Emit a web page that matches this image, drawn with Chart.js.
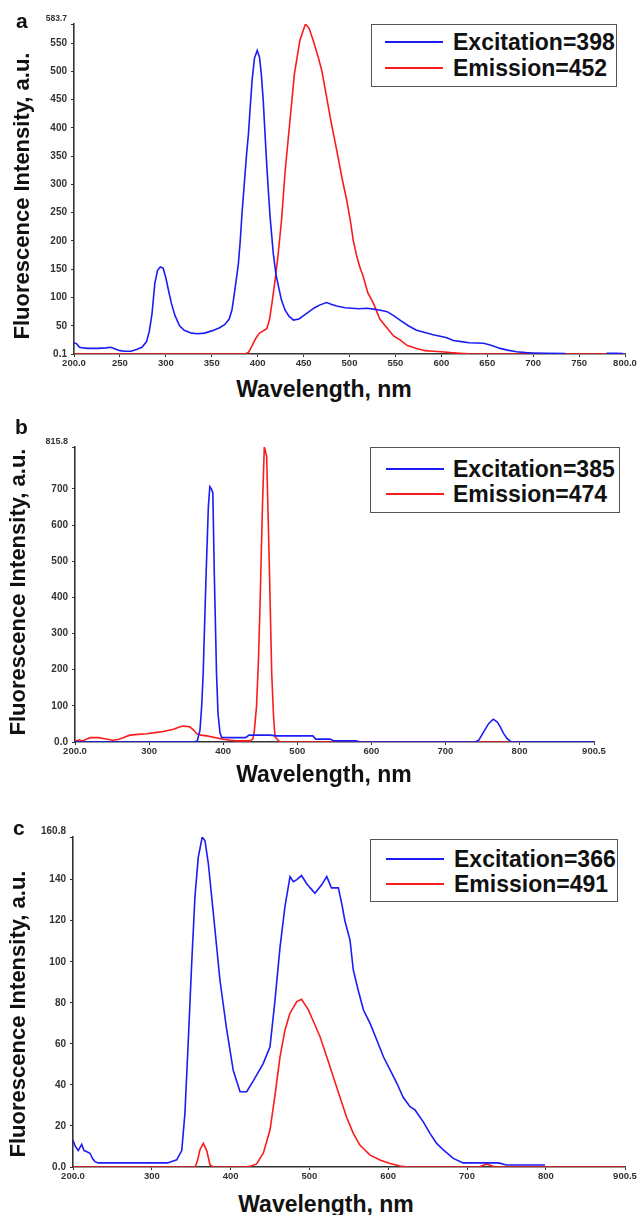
<!DOCTYPE html>
<html>
<head>
<meta charset="utf-8">
<script src="https://cdn.jsdelivr.net/npm/chart.js@4.4.1/dist/chart.umd.min.js"></script>
<style>
  body { margin: 0; background: #fff; width: 641px; height: 1215px; position: relative; overflow: hidden;
         font-family: "Liberation Sans", Arial, sans-serif; }
  canvas { position: absolute; left: 0; display: block; }
  .t { position: absolute; font-weight: bold; color: #111; white-space: nowrap; line-height: 1; }
  .ytitle { font-size: 22px; transform: translate(-50%, -50%) rotate(-90deg); }
  .xtitle { font-size: 23px; transform: translateX(-50%); }
  .letter { font-size: 21px; }
  .legend { position: absolute; border: 1.5px solid #555; background: #fff; box-sizing: border-box; }
  .legend .row { position: absolute; left: 0; right: 0; height: 26px; }
  .legend .swatch { position: absolute; top: 12px; width: 58px; height: 2px; }
  .legend .lbl { position: absolute; top: 0; font-size: 23px; font-weight: bold; line-height: 26px; color: #111; }
</style>
</head>
<body>
<canvas id="chart-a" width="641" height="375" style="top:0px"></canvas>
<canvas id="chart-b" width="641" height="352" style="top:410px"></canvas>
<canvas id="chart-c" width="641" height="390" style="top:800px"></canvas>

<div class="t letter" style="left:16px;top:10px">a</div>
<div class="t letter" style="left:15px;top:416px">b</div>
<div class="t letter" style="left:13px;top:817px">c</div>

<div class="t ytitle" style="left:21.5px;top:196px">Fluorescence Intensity, a.u.</div>
<div class="t ytitle" style="left:18px;top:592px">Fluorescence Intensity, a.u.</div>
<div class="t ytitle" style="left:17.5px;top:1014px">Fluorescence Intensity, a.u.</div>

<div class="t xtitle" style="left:324px;top:378px">Wavelength, nm</div>
<div class="t xtitle" style="left:324px;top:763px">Wavelength, nm</div>
<div class="t xtitle" style="left:326px;top:1193px">Wavelength, nm</div>

<script>
// ---- panel a ----
const aExX = [200,203,206,210,215,225,235,240,245,250,255,262,268,274,279,282,285,288,291,294,297,300,303,306,310,315,320,328,335,342,350,358,364,369,372,374,377,379,381,383,386,388,390,392,394,396.5,399.5,402,404,406,408,410,412,413.5,417,420,422.6,426,429.8,434,439,445,450,456,462,468,475,480,486,495,503,510,519,528,535,541,548,555,564,573,582,591,600,606,613,622,630,646,655,664,672,682,692,700,715,735,736,780,790,798];
const aExY = [20,18,12,11,10,10,11,12,9,6,5,5,8,12,22,40,72,125,148,154,152,135,112,90,68,50,42,37,36,37,41,46,52,62,78,100,135,160,200,250,313,355,390,440,485,523,537,525,495,450,390,331,280,243,178,140,120,95,78,67,60,62,68,75,82,87,91,88,85,82,81,80,81,79,77,75,68,60,50,42,38,34,31,29,24,22,20,19,15,10,7,4,2.5,2,1.5,1,null,1.5,1.5,1];
const aEmX = [200,386,390,394,398,402,406,410,413,416,419,422,426,430,435,440,446,452,456,461,466,470,475,480,486,492,497,501,504,508,512,515,520,526,533,540,548,555,563,573,582,591,600,610,620,630,640,800];
const aEmY = [0.1,0.1,3,15,28,37,41,45,62,95,131,172,237,325,410,495,555,583.7,576,552,525,500,455,410,361,310,272,235,202,172,150,137,108,90,62,48,32,25,15,10,6,5,4,2.5,1.5,0.5,0.1,0.1];
const aXTicks = [200,250,300,350,400,450,500,550,600,650,700,750,800];
const aXLabels = ['200.0','250','300','350','400','450','500','550','600','650','700','750','800.0'];
const aYTicks = [0.1,50,100,150,200,250,300,350,400,450,500,550,583.7];
const aYLabels = ['0.1','50','100','150','200','250','300','350','400','450','500','550','583.7'];

// ---- panel b ----
const bExX = [200,360,365,368.7,371,373,375,377,380,382,384,386,388,389.5,391,393,395.7,398,410,430,435,463,472,521,525,544,550,579,585,740,745,753,758,764.5,770,774,778,783,789,900.5];
const bExY = [0,0,3,33,100,190,330,467,651,706,700,690,467,330,190,80,25,13,12,12,19,19,17,17,8,8,3,3,0,0,5,33,50,63,55,42,25,10,0,0];
const bEmX = [200,203,206,209,212,216,220,232,240,251,258,265,274,285,297,308,319,333,340,346,355,360,364,370,378,390,400,410,418,436,440,442,445,447.5,449.7,453,455.5,458.7,462,465.5,468,470,476.7,800];
const bEmY = [5,3,6,3,5,8,12,12,9,5,7,12,19,21,23,26,29,35,41,44,42,33,23,19,17,12,8,5,3,3,8,30,98,220,374,651,815.8,790,512,190,70,14,0,0];
const bXTicks = [200,300,400,500,600,700,800,900.5];
const bXLabels = ['200.0','300','400','500','600','700','800','900.5'];
const bYTicks = [0,100,200,300,400,500,600,700,815.8];
const bYLabels = ['0.0','100','200','300','400','500','600','700','815.8'];

// ---- panel c ----
const cExX = [200,203,206.7,211,214,217,221.6,225,228,232,250,280,300,320,331.6,338,342,346,350.6,354.8,359,364,367.5,371.7,378,386.5,395,403.4,412,420.4,428.8,441.5,450,456,462.7,469,475.4,479.6,484,490,496.6,501,507,515.6,522,528,536.7,541,545,551.5,555.7,562,568.6,577,585.4,593.9,602.4,611,619,627.7,634,644.5,653,661.5,670,682.6,695,740,750,799];
const cExY = [13,10,8,11,8,7.5,6.7,4,2.6,2,2,2,2,2,3.5,8,26,59,99,132,151,160.8,159,148,124,91,67,47,36.7,36.7,42,50.5,58.6,80,107,127,141.5,139,140,142,138,136,133.4,137.5,141.5,136,136,128.5,120,110.6,96,86,76.5,70,62,53.7,47.3,40.8,34,29.4,27.8,22,16.4,11.5,8.3,4.2,2,2,1,1];
const cEmX = [200,355,358,361,365.4,369.7,373.9,378,420,426,433,441.5,450,456,462.7,469,475.4,484,490,498.6,505,513.5,522,530.3,538.8,547,555.7,564,577,589.6,602.4,615,625,715,725,735,900.5];
const cEmY = [0,0,3,8.3,11.5,8,1,0,0,0.5,1.5,6.7,18,34,53.7,66.8,75,80.6,81.7,76.7,71,63.5,53.7,44,34,24.5,16.4,10.7,5.8,3.4,1.7,0.5,0,0,1.5,0,0];
const cXTicks = [200,300,400,500,600,700,800,900.5];
const cXLabels = ['200.0','300','400','500','600','700','800','900.5'];
const cYTicks = [0,20,40,60,80,100,120,140,160.8];
const cYLabels = ['0.0','20','40','60','80','100','120','140','160.8'];

const BLUE = 'rgb(28,28,245)';
const RED = 'rgb(250,28,28)';
const AXIS = '#333';
const FONT = '"Liberation Sans", Arial, sans-serif';

const pts = (xs, ys) => xs.map((x, i) => ({ x, y: ys[i] }));

function buildPanel(canvasId, p) {
  const canvas = document.getElementById(canvasId);
  const H = canvas.height;
  const chart = new Chart(canvas, {
    type: 'scatter',
    data: {
      datasets: p.series.map(s => ({
        label: s.label,
        data: pts(s.x, s.y),
        showLine: true,
        spanGaps: false,
        borderColor: s.color,
        backgroundColor: s.color,
        borderWidth: 1.6,
        pointRadius: 0,
        tension: 0
      }))
    },
    options: {
      responsive: false,
      animation: false,
      events: [],
      layout: { padding: { left: 0, top: p.top, right: 641 - p.right, bottom: 0 } },
      plugins: { legend: { display: false }, tooltip: { enabled: false } },
      scales: {
        x: {
          type: 'linear', min: p.xTicks[0], max: p.xTicks[p.xTicks.length - 1],
          afterBuildTicks: s => { s.ticks = p.xTicks.map(v => ({ value: v })); },
          afterFit: s => { s.height = H - p.bottom; },
          ticks: {
            autoSkip: false, maxRotation: 0, padding: 1, color: AXIS,
            font: { family: FONT, size: 9.5, weight: 'bold' },
            callback: (v, i) => p.xLabels[i]
          },
          grid: { drawOnChartArea: false, tickLength: 3, color: AXIS, lineWidth: 1 },
          border: { color: AXIS, width: 1.6 }
        },
        y: {
          type: 'linear', min: p.yTicks[0], max: p.yTicks[p.yTicks.length - 1],
          afterBuildTicks: s => { s.ticks = p.yTicks.map(v => ({ value: v })); },
          afterFit: s => { s.width = p.left; },
          ticks: {
            autoSkip: false, padding: 4, color: AXIS,
            font: c => ({ family: FONT, weight: 'bold',
              size: (c.index === p.yTicks.length - 1) ? p.topTickSize : 10 }),
            callback: (v, i) => i === p.yTicks.length - 1 ? [p.yLabels[i], ''] : p.yLabels[i]
          },
          grid: { drawOnChartArea: false, tickLength: 3, color: AXIS, lineWidth: 1 },
          border: { color: AXIS, width: 1.6 }
        }
      }
    }
  });
  renderLegend(chart, p.legend);
  return chart;
}

// Boxed legend built from the chart's own datasets
function renderLegend(chart, box) {
  const el = document.createElement('div');
  el.className = 'legend';
  Object.assign(el.style, { left: box.left + 'px', top: box.top + 'px', width: box.w + 'px', height: box.h + 'px' });
  chart.data.datasets.forEach((ds, i) => {
    const row = document.createElement('div');
    row.className = 'row';
    row.style.top = box.rows[i] + 'px';
    row.innerHTML = `<div class="swatch" style="left:${box.line}px;background:${ds.borderColor}"></div>` +
                    `<div class="lbl" style="left:${box.text}px">${ds.label}</div>`;
    el.appendChild(row);
  });
  document.body.appendChild(el);
}

buildPanel('chart-a', {
  left: 74, right: 625, top: 24, bottom: 354, topTickSize: 8.5,
  xTicks: aXTicks, xLabels: aXLabels, yTicks: aYTicks, yLabels: aYLabels,
  series: [
    { label: 'Excitation=398', x: aExX, y: aExY, color: BLUE },
    { label: 'Emission=452', x: aEmX, y: aEmY, color: RED }
  ],
  legend: { left: 371, top: 24, w: 246, h: 63, rows: [4, 30], line: 13, text: 81 }
});

buildPanel('chart-b', {
  left: 75, right: 594, top: 37, bottom: 332, topTickSize: 9,
  xTicks: bXTicks, xLabels: bXLabels, yTicks: bYTicks, yLabels: bYLabels,
  series: [
    { label: 'Excitation=385', x: bExX, y: bExY, color: BLUE },
    { label: 'Emission=474', x: bEmX, y: bEmY, color: RED }
  ],
  legend: { left: 370, top: 447, w: 250, h: 66, rows: [8, 33], line: 15, text: 82 }
});

buildPanel('chart-c', {
  left: 73, right: 625, top: 37, bottom: 367, topTickSize: 10,
  xTicks: cXTicks, xLabels: cXLabels, yTicks: cYTicks, yLabels: cYLabels,
  series: [
    { label: 'Excitation=366', x: cExX, y: cExY, color: BLUE },
    { label: 'Emission=491', x: cEmX, y: cEmY, color: RED }
  ],
  legend: { left: 370, top: 839, w: 248, h: 63, rows: [6, 31], line: 15, text: 83 }
});
</script>
</body>
</html>
